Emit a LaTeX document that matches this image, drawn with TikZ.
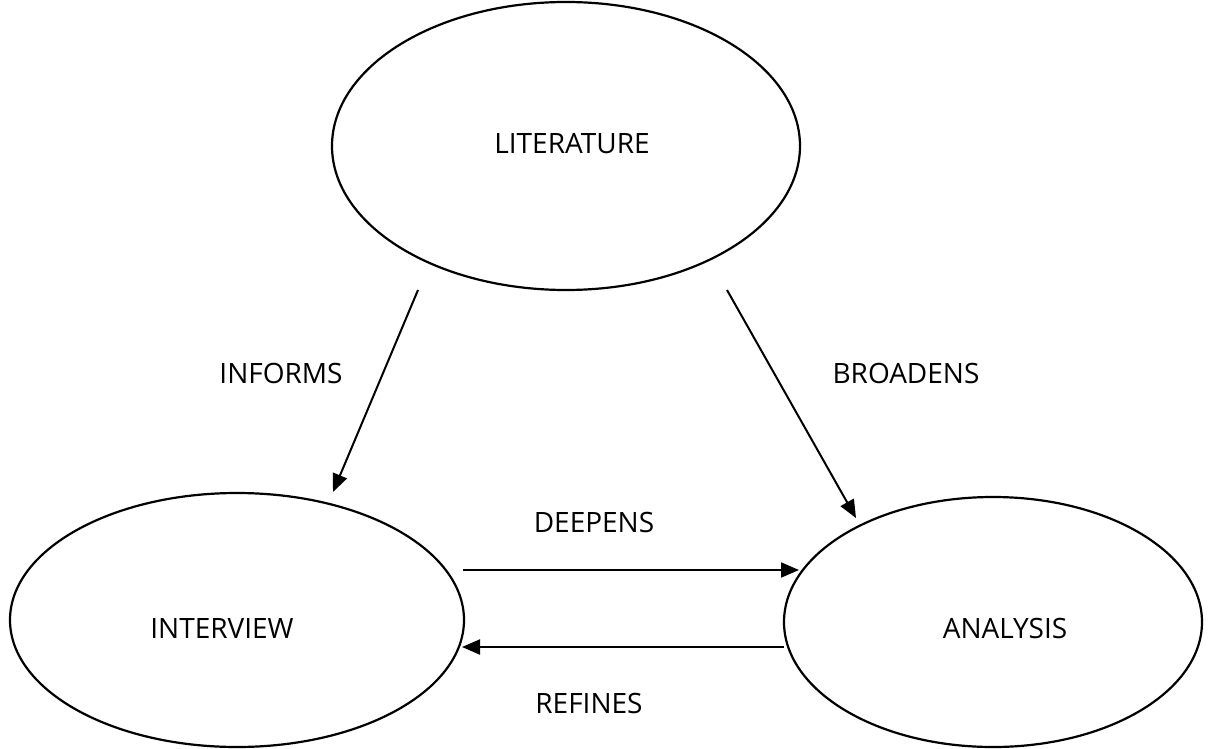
\documentclass[tikz,border=0pt]{standalone}
\usepackage{fontspec}
\setmainfont{Open Sans}
\usetikzlibrary{arrows.meta}
\begin{document}
\begin{tikzpicture}[x=1pt,y=-1pt,
  rim/.style={line width=2.2pt},
  flow/.style={line width=2pt,-{Triangle[length=18pt,width=15pt]}},
  lbl/.style={font=\fontsize{28}{32}\selectfont,inner sep=0pt}]
  \useasboundingbox (0,0) rectangle (1210,749);
  % three stages of the study
  \draw[rim] (566,146) ellipse [x radius=234, y radius=144];
  \draw[rim] (237,620) ellipse [x radius=227, y radius=127];
  \draw[rim] (993,622) ellipse [x radius=209, y radius=125];
  \node[lbl] (lit) at (572,144) {LITERATURE};
  \node[lbl] (int) at (222,628) {INTERVIEW};
  \node[lbl] (ana) at (1005,628) {ANALYSIS};
  % connector end points on the ellipse rims
  \coordinate (litL) at (418,290);
  \coordinate (intT) at (333,492);
  \coordinate (litR) at (727,290);
  \coordinate (anaT) at (856,518);
  \coordinate (intR1) at (463,570);
  \coordinate (anaL1) at (799,570);
  \coordinate (anaL2) at (784,647);
  \coordinate (intR2) at (462,647);
  \draw[flow] (litL) -- (intT);
  \draw[flow] (litR) -- (anaT);
  \draw[flow] (intR1) -- (anaL1);
  \draw[flow] (anaL2) -- (intR2);
  % relation labels
  \node[lbl] (inf) at (281,373) {INFORMS};
  \node[lbl] (bro) at (906,373) {BROADENS};
  \node[lbl] (dee) at (594,522) {DEEPENS};
  \node[lbl] (ref) at (589,703) {REFINES};
\end{tikzpicture}
\end{document}
